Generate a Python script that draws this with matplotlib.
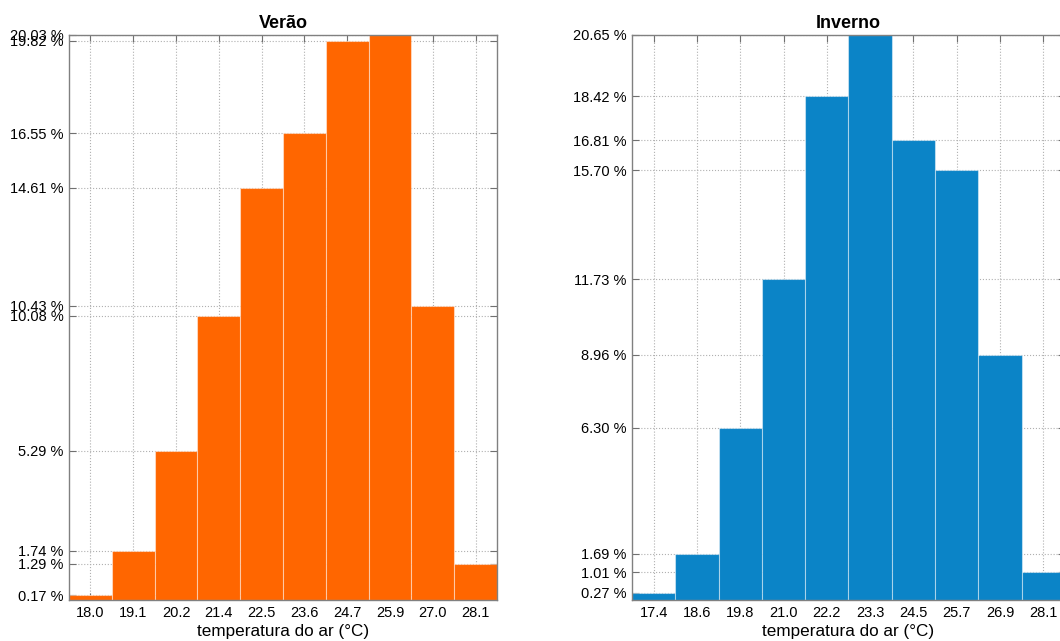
import matplotlib.pyplot as plt

plt.rcParams['font.family'] = ['Liberation Sans', 'DejaVu Sans']

verao_labels = ['18.0', '19.1', '20.2', '21.4', '22.5', '23.6', '24.7', '25.9', '27.0', '28.1']
verao_pct = [0.17, 1.74, 5.29, 10.08, 14.61, 16.55, 19.82, 20.03, 10.43, 1.29]

inverno_labels = ['17.4', '18.6', '19.8', '21.0', '22.2', '23.3', '24.5', '25.7', '26.9', '28.1']
inverno_pct = [0.27, 1.69, 6.30, 11.73, 18.42, 20.65, 16.81, 15.70, 8.96, 1.01]

panels = [
    ('Verão', verao_labels, verao_pct, '#ff6600', [0.0651, 0.064, 0.4038, 0.8814]),
    ('Inverno', inverno_labels, inverno_pct, '#0b84c7', [0.5962, 0.064, 0.4085, 0.8814]),
]

fig = plt.figure(figsize=(10.6, 6.41), dpi=100)

for title, labels, pct, color, pos in panels:
    ax = fig.add_axes(pos)
    x = range(len(pct))
    ax.bar(x, pct, width=1.0, color=color, edgecolor=(1, 1, 1, 0.45), lw=0.8, zorder=2)
    ax.set_xlim(-0.5, len(pct) - 0.5)
    ax.set_ylim(0, max(pct))
    ax.set_xticks(list(x))
    ax.set_xticklabels(labels)
    ax.set_yticks(pct)
    ax.set_yticklabels(['%.2f %%' % v for v in pct])
    ax.grid(True, ls=':', color='#b0b0b0', lw=0.8, zorder=0)
    ax.tick_params(direction='in', top=True, right=True, color='#707070',
                   length=5, labelsize=10.5, pad=4)
    for s in ax.spines.values():
        s.set_color('#808080')
        s.set_linewidth(1.0)
        s.set_zorder(3)
    ax.set_title(title, fontsize=13, fontweight='bold', pad=5)
    ax.set_xlabel('temperatura do ar (°C)', fontsize=12.3, labelpad=3)

plt.savefig('out.png', dpi=100)
